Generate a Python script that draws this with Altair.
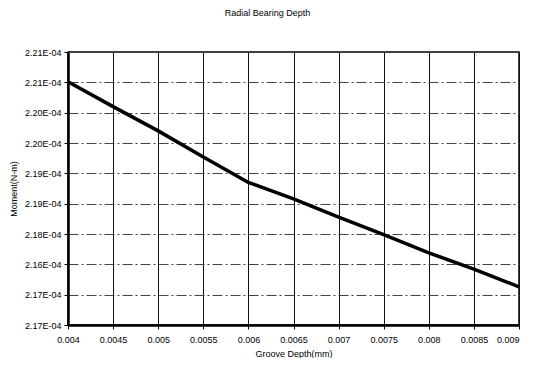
import altair as alt
import pandas as pd

# Data
groove_depth = [0.004, 0.0045, 0.005, 0.0055, 0.006, 0.0065, 0.007, 0.0075, 0.008, 0.0085, 0.009]
moment = [2.2076e-4, 2.2035e-4, 2.1995e-4, 2.1952e-4, 2.1910e-4, 2.1883e-4, 2.1853e-4,
          2.1824e-4, 2.1794e-4, 2.1767e-4, 2.1738e-4]

x_ticks = [0.004, 0.0045, 0.005, 0.0055, 0.006, 0.0065, 0.007, 0.0075, 0.008, 0.0085, 0.009]
y_ticks = [2.1675e-4, 2.1725e-4, 2.1775e-4, 2.1825e-4, 2.1875e-4,
           2.1925e-4, 2.1975e-4, 2.2025e-4, 2.2075e-4, 2.2125e-4]
y_tick_labels = ["2.17E-04", "2.17E-04", "2.16E-04", "2.18E-04", "2.19E-04",
                 "2.19E-04", "2.20E-04", "2.20E-04", "2.21E-04", "2.21E-04"]

df = pd.DataFrame({"depth": groove_depth, "moment": moment})

label_list = "[" + ",".join("'" + s + "'" for s in y_tick_labels) + "]"
y_label_expr = f"{label_list}[round((datum.value - {y_ticks[0]}) / {y_ticks[1] - y_ticks[0]})]"

FONT = "Liberation Sans"

line = alt.Chart(df).mark_line(color="black", strokeWidth=3.5).encode(
    x=alt.X("depth:Q",
            scale=alt.Scale(domain=[x_ticks[0], x_ticks[-1]], nice=False, zero=False),
            axis=alt.Axis(values=x_ticks, format=".4~f", title="Groove Depth(mm)",
                          grid=True, gridColor="#111", gridWidth=1,
                          domainColor="black", domainWidth=2.5,
                          tickColor="black", tickSize=4, labelPadding=6,
                          labelFlush=False, labelOverlap=False,
                          labelAlign=alt.ExprRef(expr=f"datum.value >= {x_ticks[-1]} ? 'right' : 'center'"),
                          labelFontSize=9, titleFontSize=9, titleFontWeight="normal",
                          titlePadding=5, labelColor="black", titleColor="black")),
    y=alt.Y("moment:Q",
            scale=alt.Scale(domain=[y_ticks[0], y_ticks[-1]], nice=False, zero=False),
            axis=alt.Axis(values=y_ticks, labelExpr=y_label_expr, title="Moment(N-m)",
                          grid=True, gridColor="#444", gridWidth=1, gridDash=[10, 3, 2, 3],
                          domainColor="black", domainWidth=2.5,
                          tickColor="black", tickSize=4, labelPadding=3,
                          labelFlush=False, labelOverlap=False,
                          labelFontSize=9, titleFontSize=9, titleFontWeight="normal",
                          titleX=-55, titleY=136.5, titleBaseline="middle", titleAngle=270,
                          labelColor="black", titleColor="black")),
)

chart = line.properties(
    width=451,
    height=273,
    title=alt.TitleParams("Radial Bearing Depth", fontSize=9, fontWeight="normal",
                          font=FONT, color="black", anchor="middle", dx=-26, offset=30),
    autosize=alt.AutoSizeParams(type="none"),
    padding={"left": 60, "top": 44, "right": 7, "bottom": 33},
).configure(font=FONT).configure_view(stroke="black", strokeWidth=1.5)

chart.save("out.html", embed_options={"renderer": "svg", "actions": False})
